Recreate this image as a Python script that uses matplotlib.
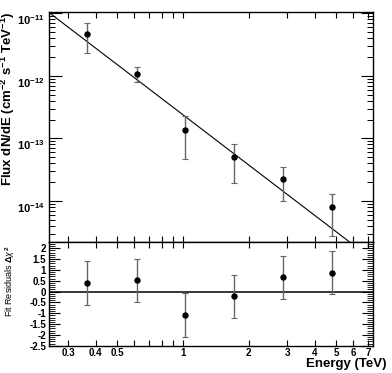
import matplotlib
matplotlib.use("Agg")
import matplotlib.pyplot as plt
import numpy as np
from matplotlib.ticker import FixedLocator, FixedFormatter, LogLocator, MultipleLocator, NullFormatter

plt.rcParams['font.family'] = ['Liberation Sans', 'DejaVu Sans']
plt.rcParams['mathtext.fontset'] = 'custom'
plt.rcParams['mathtext.rm'] = 'Liberation Sans:bold'
plt.rcParams['mathtext.it'] = 'Liberation Sans:italic'
plt.rcParams['mathtext.bf'] = 'Liberation Sans:bold'

# Data
energy = [0.366, 0.615, 1.021, 1.703, 2.857, 4.78]
flux = [4.67e-12, 1.08e-12, 1.36e-13, 4.97e-14, 2.21e-14, 8.05e-15]
flux_hi = [6.9e-12, 1.37e-12, 2.3e-13, 8.1e-14, 3.44e-14, 1.29e-14]
flux_lo = [2.29e-12, 7.96e-13, 4.72e-14, 1.9e-14, 9.8e-15, 2.77e-15]
resid = [0.40, 0.52, -1.08, -0.22, 0.66, 0.87]
resid_err = [1.0, 1.0, 1.0, 1.0, 1.0, 1.0]
fit_norm = 2.39e-13
fit_index = 2.676
xtick_vals = [0.3, 0.4, 0.5, 0.6, 0.7, 0.8, 0.9, 1, 2, 3, 4, 5, 6, 7]
xtick_labels = ['0.3', '0.4', '0.5', '', '', '', '', '1', '2', '3', '4', '5', '6', '7']
ftick_vals = [1e-14, 1e-13, 1e-12, 1e-11]
ftick_labels = [r'10$^{\mathbf{-14}}$', r'10$^{\mathbf{-13}}$', r'10$^{\mathbf{-12}}$', r'10$^{\mathbf{-11}}$']
rtick_vals = [-2.5, -2, -1.5, -1, -0.5, 0, 0.5, 1, 1.5, 2]
rtick_labels = ['-2.5', '-2', '-1.5', '-1', '-0.5', '0', '0.5', '1', '1.5', '2']

W, H = 392, 373
fig = plt.figure(figsize=(W / 100, H / 100), dpi=100)
L, R = 49 / W, 372.7 / W
ax = fig.add_axes([L, 1 - 242 / H, R - L, (242 - 12) / H])
axr = fig.add_axes([L, 1 - 345.7 / H, R - L, (345.7 - 242) / H])
axw = (R - L) * W

xlim = (0.245, 7.35)
ecol = '#666666'

# Top panel
e = np.array(energy); f = np.array(flux)
yerr = [f - np.array(flux_lo), np.array(flux_hi) - f]
ax.errorbar(e, f, yerr=yerr, fmt='o', color='black', ms=3.6, ecolor=ecol,
            elinewidth=1.0, capsize=2, capthick=0.8, zorder=3)
xf = np.logspace(np.log10(xlim[0]), np.log10(xlim[1]), 200)
ax.plot(xf, fit_norm * xf ** (-fit_index), color='black', lw=0.8)
ax.set_xscale('log'); ax.set_yscale('log')
ax.set_xlim(*xlim)
ax.set_ylim(2.2e-15, 1.05e-11)
ax.xaxis.set_major_locator(FixedLocator(xtick_vals))
ax.xaxis.set_major_formatter(NullFormatter())
ax.xaxis.set_minor_locator(FixedLocator([]))
ax.yaxis.set_major_locator(FixedLocator(ftick_vals))
ax.yaxis.set_major_formatter(FixedFormatter(ftick_labels))
ax.yaxis.set_minor_locator(LogLocator(base=10, subs=np.arange(2, 10), numticks=20))
ax.yaxis.set_minor_formatter(NullFormatter())
ax.tick_params(axis='both', which='both', direction='in', top=True, right=True)
ax.tick_params(axis='x', which='major', length=4, width=0.8)
ax.tick_params(axis='y', which='major', length=9, width=0.8, labelsize=8, pad=3)
ax.tick_params(axis='y', which='minor', length=4.5, width=0.7)
for lab in ax.get_yticklabels():
    lab.set_fontweight('bold')
    lab.set_verticalalignment('top')
ax.set_ylabel(r'Flux dN/dE (cm$^{\mathbf{-2}}$ s$^{\mathbf{-1}}$ TeV$^{\mathbf{-1}}$)',
              fontsize=9.5, fontweight='bold', loc='top')
ax.yaxis.set_label_coords((17 - 49) / axw, 1.0)
for s in ax.spines.values():
    s.set_linewidth(1.0)

# Residual panel
axr.errorbar(energy, resid, yerr=resid_err, fmt='o', color='black', ms=3.6,
             ecolor=ecol, elinewidth=1.0, capsize=2, capthick=0.8, zorder=3)
axr.axhline(0, color='black', lw=1.1)
axr.set_xscale('log')
axr.set_xlim(*xlim)
axr.set_ylim(-2.5, 2.29)
axr.xaxis.set_major_locator(FixedLocator(xtick_vals))
axr.xaxis.set_major_formatter(FixedFormatter(xtick_labels))
axr.xaxis.set_minor_locator(FixedLocator([]))
axr.yaxis.set_major_locator(FixedLocator(rtick_vals))
axr.yaxis.set_major_formatter(FixedFormatter(rtick_labels))
axr.yaxis.set_minor_locator(MultipleLocator(0.1))
axr.tick_params(axis='both', which='both', direction='in', top=True, right=True)
axr.tick_params(axis='x', which='major', length=4, width=0.8, labelsize=7, pad=2)
axr.tick_params(axis='y', which='major', length=8, width=0.8, labelsize=7, pad=2)
axr.tick_params(axis='y', which='minor', length=4, width=0.6)
for lab in axr.get_xticklabels() + axr.get_yticklabels():
    lab.set_fontweight('bold')
axr.set_ylabel(r'Fit Residuals $\Delta\chi^2$', fontsize=6.5, loc='top')
axr.yaxis.set_label_coords((17 - 49) / axw, 0.97)
for s in axr.spines.values():
    s.set_linewidth(1.0)

fig.text(386 / W, 1 - 367 / H, 'Energy (TeV)', fontsize=9.5, fontweight='bold',
         ha='right', va='baseline')

fig.savefig('out.png', dpi=100)
